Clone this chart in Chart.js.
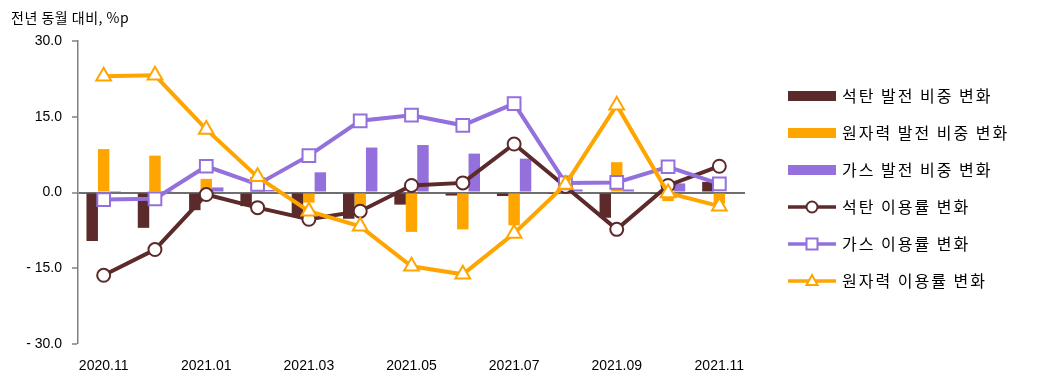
<!DOCTYPE html>
<html>
<head>
<meta charset="utf-8">
<script src="https://cdn.jsdelivr.net/npm/chart.js@4/dist/chart.umd.min.js"></script>
<style>
  html, body { margin: 0; padding: 0; background: #fff; }
  #wrap { position: relative; width: 1040px; height: 381px; }
</style>
</head>
<body>
<div id="wrap"><canvas id="c" width="1040" height="381"></canvas></div>
<script>
const titleText = '전년 동월 대비, %p';
const categories = ['2020.11','2020.12','2021.01','2021.02','2021.03','2021.04','2021.05','2021.06','2021.07','2021.08','2021.09','2021.10','2021.11'];
const yTicks = [-30, -15, 0, 15, 30];

const seriesNames = ['석탄 발전 비중 변화','원자력 발전 비중 변화','가스 발전 비중 변화','석탄 이용률 변화','가스 이용률 변화','원자력 이용률 변화'];
const coalShare    = [-9.6, -7.0, -3.5, -2.7, -4.8, -5.2, -2.4, -0.6, -0.7, -0.3, -5.0, -0.3, 2.1];
const nuclearShare = [8.6, 7.3, 2.7, 0.3, -2.0, -3.0, -7.8, -7.3, -6.5, 0.2, 6.0, -1.7, -2.2];
const gasShare     = [0.3, 0.1, 1.0, 0.5, 4.0, 8.9, 9.4, 7.7, 6.7, 0.6, 0.6, 1.8, 0.2];
const coalUtil     = [-16.4, -11.3, -0.4, -3.0, -5.3, -3.7, 1.4, 1.9, 9.6, 1.2, -7.3, 1.4, 5.2];
const gasUtil      = [-1.4, -1.25, 5.2, 1.6, 7.3, 14.2, 15.3, 13.3, 17.6, 1.9, 2.0, 5.1, 1.7];
const nuclearUtil  = [23.0, 23.2, 12.5, 3.1, -3.7, -6.7, -14.6, -16.2, -8.1, 1.6, 17.3, -0.1, -2.7];

const COAL = '#5C2A2A', NUC = '#FFA500', GAS = '#9370DB';
const KFONT = '"Noto Sans CJK KR", "Noto Sans", sans-serif';

const legendPlugin = {
  id: 'customLegend',
  afterDraw(chart) {
    const ctx = chart.ctx;
    ctx.save();
    // title
    ctx.fillStyle = '#000';
    ctx.font = '14px ' + KFONT;
    ctx.textBaseline = 'middle';
    ctx.textAlign = 'left';
    ctx.letterSpacing = '0.5px';
    ctx.fillText(titleText, 11, 18);
    // legend
    const colors = [COAL, NUC, GAS, COAL, GAS, NUC];
    const styles = ['bar','bar','bar','circle','rect','triangle'];
    const x0 = 788, x1 = 836, tx = 842;
    seriesNames.forEach((name, i) => {
      const y = 96 + i * 37;
      const col = colors[i];
      ctx.letterSpacing = '0px';
      if (styles[i] === 'bar') {
        ctx.fillStyle = col;
        ctx.fillRect(x0, y - 5, x1 - x0, 10);
      } else {
        ctx.strokeStyle = col;
        ctx.lineWidth = 3.5;
        ctx.beginPath();
        ctx.moveTo(x0, y); ctx.lineTo(x1, y);
        ctx.stroke();
        const cx = (x0 + x1) / 2;
        ctx.fillStyle = '#fff';
        ctx.lineWidth = 2;
        ctx.beginPath();
        if (styles[i] === 'circle') {
          ctx.arc(cx, y, 5.5, 0, Math.PI * 2);
        } else if (styles[i] === 'rect') {
          ctx.rect(cx - 5.5, y - 5.5, 11, 11);
        } else {
          ctx.moveTo(cx, y - 6);
          ctx.lineTo(cx + 5.5, y + 4);
          ctx.lineTo(cx - 5.5, y + 4);
          ctx.closePath();
        }
        ctx.fill();
        ctx.stroke();
      }
      ctx.fillStyle = '#000';
      ctx.font = '16px ' + KFONT;
      ctx.letterSpacing = '2px';
      ctx.textBaseline = 'middle';
      ctx.fillText(name, tx, y);
    });
    ctx.restore();
  }
};

const pointCommon = { pointBackgroundColor: '#fff', pointBorderWidth: 2, borderWidth: 4, tension: 0, fill: false, type: 'line' };

new Chart(document.getElementById('c'), {
  data: {
    labels: categories,
    datasets: [
      { type: 'bar', label: seriesNames[0], data: coalShare, backgroundColor: COAL, order: 5 },
      { type: 'bar', label: seriesNames[1], data: nuclearShare, backgroundColor: NUC, order: 5 },
      { type: 'bar', label: seriesNames[2], data: gasShare, backgroundColor: GAS, order: 5 },
      Object.assign({ label: seriesNames[3], data: coalUtil, borderColor: COAL, pointBorderColor: COAL, pointStyle: 'circle', pointRadius: 6.5, order: 3 }, pointCommon),
      Object.assign({ label: seriesNames[4], data: gasUtil, borderColor: GAS, pointBorderColor: GAS, pointStyle: 'rect', pointRadius: 9, order: 2 }, pointCommon),
      Object.assign({ label: seriesNames[5], data: nuclearUtil, borderColor: NUC, pointBorderColor: NUC, pointStyle: 'triangle', pointRadius: 8.5, order: 1 }, pointCommon)
    ]
  },
  options: {
    responsive: false,
    animation: false,
    events: [],
    layout: { padding: { top: 41, right: 295, bottom: 0, left: 0 } },
    datasets: { bar: { categoryPercentage: 0.67, barPercentage: 1.0 } },
    plugins: { legend: { display: false }, tooltip: { enabled: false }, title: { display: false } },
    scales: {
      x: {
        offset: true,
        grid: { display: false, drawTicks: false },
        border: { display: false },
        ticks: {
          autoSkip: false, maxRotation: 0, padding: 14, color: '#000',
          font: { family: '"Liberation Sans", Arial, sans-serif', size: 14 },
          callback: (v, i) => (i % 2 === 0 ? categories[i] : '')
        },
        afterFit: (s) => { s.height = 37; }
      },
      y: {
        min: -30, max: 30,
        afterBuildTicks: (s) => { s.ticks = yTicks.map(v => ({ value: v })); },
        grid: {
          drawTicks: true, tickLength: 6, tickColor: '#808080', tickWidth: 1.5,
          color: (c) => (c.tick && c.tick.value === 0 ? '#6f6f6f' : 'rgba(0,0,0,0)'),
          lineWidth: (c) => (c.tick && c.tick.value === 0 ? 2 : 0)
        },
        border: { display: true, color: '#808080', width: 1.5 },
        ticks: {
          padding: 10, color: '#000',
          font: { family: '"Liberation Sans", Arial, sans-serif', size: 14 },
          callback: (v) => (v < 0 ? '- ' + Math.abs(v).toFixed(1) : v.toFixed(1))
        },
        afterFit: (s) => { s.width = 78; }
      }
    }
  },
  plugins: [legendPlugin]
});
</script>
</body>
</html>
